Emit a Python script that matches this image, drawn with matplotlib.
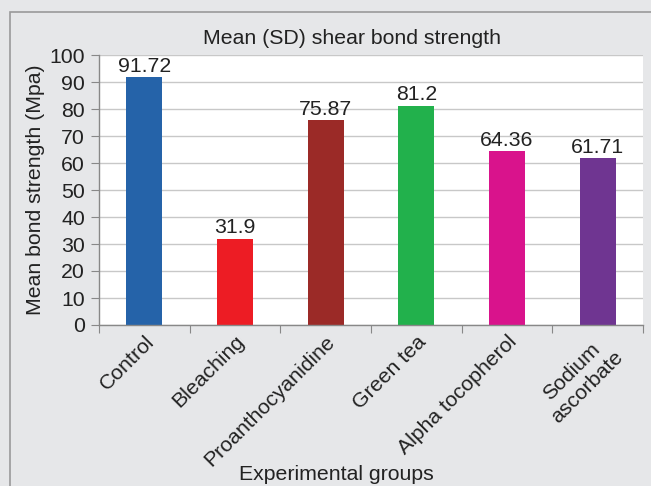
import matplotlib
matplotlib.use('Agg')
import matplotlib.pyplot as plt
from matplotlib.patches import Rectangle
import numpy as np

plt.rcParams['font.family'] = ['Liberation Sans', 'DejaVu Sans']

groups = ['Control', 'Bleaching', 'Proanthocyanidine', 'Green tea',
          'Alpha tocopherol', 'Sodium\nascorbate']
means = [91.72, 31.9, 75.87, 81.2, 64.36, 61.71]
value_labels = ['91.72', '31.9', '75.87', '81.2', '64.36', '61.71']
colors = ['#2563a9', '#ed1c24', '#9b2a27', '#22b14c', '#d9138c', '#6f3591']
yticks = list(range(0, 101, 10))

FS = 15.3
TXT = '#222222'
W, H = 651, 486
fig = plt.figure(figsize=(W / 100, H / 100), dpi=100)
fig.patch.set_facecolor('#e6e7e9')

# chart frame
fig.patches.append(Rectangle((10 / W, -0.05), 1.0, 1 - 12 / H + 0.05,
                             transform=fig.transFigure, fill=False,
                             edgecolor='#9a9a9a', linewidth=1.2))

ax = fig.add_axes([99 / W, 1 - 325 / H, (643 - 99) / W, (325 - 55) / H])
ax.set_facecolor('white')

x = np.arange(len(groups))
ax.bar(x, means, width=0.4, color=colors, zorder=3)
for xi, m, lab in zip(x, means, value_labels):
    ax.text(xi, m + 0.6, lab, ha='center', va='bottom', fontsize=FS, color=TXT)

ax.set_xlim(-0.5, len(groups) - 0.5)
ax.set_ylim(0, 100)
ax.set_yticks(yticks)
ax.yaxis.grid(True, color='#c8c8c8', linewidth=1.0, zorder=0)
ax.tick_params(axis='y', direction='out', length=6, color='#888888',
               labelsize=FS, labelcolor=TXT, pad=4)

ax.set_xticks(np.arange(len(groups) + 1) - 0.5)
ax.set_xticklabels([])
ax.set_xticks(x, minor=True)
ax.set_xticklabels(groups, minor=True, rotation=45, ha='right',
                   rotation_mode='anchor', fontsize=FS, color=TXT,
                   multialignment='center')
ax.tick_params(axis='x', which='major', direction='out', length=6, color='#888888')
ax.tick_params(axis='x', which='minor', length=0, pad=5)

for s in ['top', 'right']:
    ax.spines[s].set_visible(False)
for s in ['left', 'bottom']:
    ax.spines[s].set_color('#888888')
    ax.spines[s].set_linewidth(1.0)
ax.spines['bottom'].set_zorder(4)

fig.text(352 / W, 1 - 38 / H, 'Mean (SD) shear bond strength', ha='center',
         va='center', fontsize=FS, color=TXT)
fig.text(36 / W, 1 - 190 / H, 'Mean bond strength (Mpa)', ha='center',
         va='center', rotation=90, fontsize=FS, color=TXT)
fig.text(336 / W, 1 - 474 / H, 'Experimental groups', ha='center',
         va='center', fontsize=FS, color=TXT)

fig.savefig('out.png', dpi=100, facecolor=fig.get_facecolor())
